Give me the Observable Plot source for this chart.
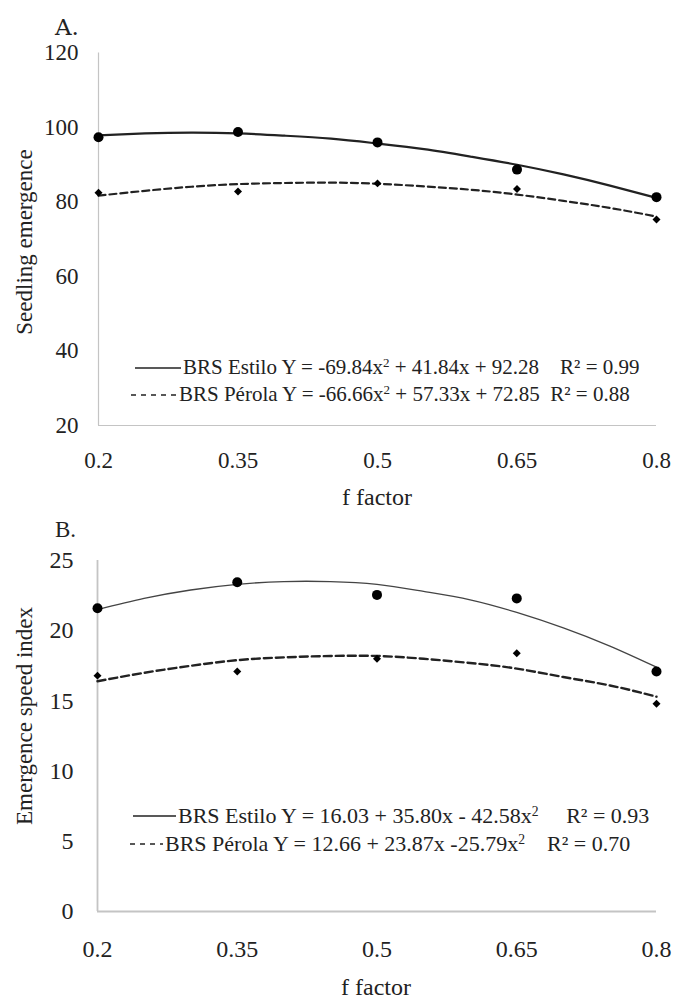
<!DOCTYPE html>
<html>
<head>
<meta charset="utf-8">
<script src="https://cdn.jsdelivr.net/npm/d3@7"></script>
<script src="https://cdn.jsdelivr.net/npm/@observablehq/plot@0.6"></script>
<style>
  body { margin: 0; background: #fff; }
  #wrap { position: relative; width: 673px; height: 1000px; background: #fff; font-family: 'Liberation Serif', serif; color: #222; overflow: hidden; }
  .abs { position: absolute; white-space: pre; line-height: 1; }
  .ytitle { position: absolute; white-space: nowrap; transform: translate(-50%, -50%) rotate(-90deg); line-height: 1; }
  .xtitle { position: absolute; white-space: nowrap; transform: translate(-50%, -50%); line-height: 1.1; }
  .leg { position: absolute; white-space: pre; line-height: 1; display: flex; align-items: center; }
  .leg sup { font-size: 0.62em; vertical-align: 0.55em; line-height: 0; }
  .leg svg { display: block; margin-right: 2px; }
</style>
</head>
<body>
<div id="wrap"></div>
<script>
// ---- data ----
const fFactor = [0.2, 0.35, 0.5, 0.65, 0.8];
const emergEstilo = [97.4, 98.8, 96.0, 88.7, 81.3];
const emergPerola = [82.5, 82.8, 85.0, 83.5, 75.3];
const speedEstilo = [21.6, 23.45, 22.55, 22.3, 17.1];
const speedPerola = [16.8, 17.1, 18.0, 18.4, 14.8];

const trendX = [0.2, 0.25, 0.3, 0.35, 0.4, 0.45, 0.5, 0.55, 0.6, 0.65, 0.7, 0.75, 0.8];
const trendEmergEstilo = [97.9, 98.4, 98.6, 98.4, 97.8, 97.0, 95.7, 94.2, 92.2, 90.0, 87.4, 84.4, 81.1];
const trendEmergPerola = [81.7, 83.0, 84.1, 84.8, 85.1, 85.2, 84.9, 84.2, 83.3, 82.0, 80.3, 78.4, 76.1];
const trendSpeedEstilo = [21.5, 22.3, 22.9, 23.3, 23.5, 23.5, 23.3, 22.8, 22.2, 21.3, 20.2, 18.9, 17.4];
const trendSpeedPerola = [16.4, 17.0, 17.5, 17.9, 18.1, 18.2, 18.2, 18.0, 17.7, 17.3, 16.7, 16.1, 15.3];

const xTicks = [0.2, 0.35, 0.5, 0.65, 0.8];
const yTicksA = [20, 40, 60, 80, 100, 120];
const yTicksB = [0, 5, 10, 15, 20, 25];

const titleA = "A.";
const titleB = "B.";
const yLabelA = "Seedling emergence";
const yLabelB = "Emergence speed index";
const xLabel = "f factor";
const legA = [
  {style: "solid", html: 'BRS Estilo Y = -69.84x<sup>2</sup> + 41.84x + 92.28    R² = 0.99'},
  {style: "dash", html: 'BRS Pérola Y = -66.66x<sup>2</sup> + 57.33x + 72.85  R² = 0.88'}
];
const legB = [
  {style: "solid", html: 'BRS Estilo Y = 16.03 + 35.80x - 42.58x<sup>2</sup>     R² = 0.93'},
  {style: "dash", html: 'BRS Pérola Y = 12.66 + 23.87x -25.79x<sup>2</sup>    R² = 0.70'}
];

const FONT = "Liberation Serif";
const rows = (xs, ys) => xs.map((x, i) => ({x, y: ys[i]}));
const wrap = document.getElementById("wrap");

function panel(opts) {
  const p = Plot.plot({
    width: 673,
    height: 480,
    marginLeft: opts.ml,
    marginRight: opts.mr,
    marginTop: opts.mt,
    marginBottom: opts.mb,
    style: {fontFamily: FONT, fontSize: opts.fs + "px", color: "#222", background: "transparent", overflow: "visible"},
    x: {domain: [0.2, 0.8]},
    y: {domain: opts.ydom},
    marks: [
      Plot.ruleX([0.2], {stroke: "#c4c4c4", strokeWidth: opts.axw}),
      Plot.ruleY([opts.ydom[0]], {stroke: "#c4c4c4", strokeWidth: opts.axw}),
      Plot.axisX({ticks: xTicks, tickFormat: d => String(d), tickSize: 0, tickPadding: opts.xpad, label: null, fill: "#222"}),
      Plot.axisY({ticks: opts.yticks, tickFormat: d => String(d), tickSize: 0, tickPadding: opts.ypad, label: null, fill: "#222"}),
      Plot.line(rows(trendX, opts.trendE), {x: "x", y: "y", curve: "natural", stroke: opts.solidColor, strokeWidth: opts.solidW}),
      Plot.line(rows(trendX, opts.trendP), {x: "x", y: "y", curve: "natural", stroke: "#222", strokeWidth: opts.dashW, strokeDasharray: opts.dash}),
      Plot.dot(rows(fFactor, opts.ptsE), {x: "x", y: "y", r: 5, fill: "#000", stroke: "none"}),
      Plot.dot(rows(fFactor, opts.ptsP), {x: "x", y: "y", r: 3.6, symbol: "diamond2", fill: "#000", stroke: "none"})
    ]
  });
  p.style.position = "absolute";
  p.style.left = "0px";
  p.style.top = opts.top + "px";
  p.style.fontFamily = FONT;
  wrap.appendChild(p);
}

panel({top: 0, ml: 98, mr: 17, mt: 52.5, mb: 55, ydom: [20, 120], yticks: yTicksA, fs: 23, xpad: 26, ypad: 20, axw: 1.2,
  trendE: trendEmergEstilo, trendP: trendEmergPerola, ptsE: emergEstilo, ptsP: emergPerola,
  solidColor: "#222", solidW: 2.2, dashW: 2.2, dash: "7,4"});
panel({top: 500, ml: 97, mr: 17, mt: 60, mb: 69, ydom: [0, 25], yticks: yTicksB, fs: 24, xpad: 28, ypad: 24, axw: 1.8,
  trendE: trendSpeedEstilo, trendP: trendSpeedPerola, ptsE: speedEstilo, ptsP: speedPerola,
  solidColor: "#444", solidW: 1.3, dashW: 2.4, dash: "8,4"});

function addText(cls, txt, left, top, size, fam) {
  const d = document.createElement("div");
  d.className = cls;
  d.textContent = txt;
  d.style.left = left + "px";
  d.style.top = top + "px";
  d.style.fontSize = size + "px";
  if (fam) d.style.fontFamily = fam;
  wrap.appendChild(d);
  return d;
}
addText("abs", titleA, 55, 16, 23, "DejaVu Serif");
addText("abs", titleB, 55, 518, 23, "Liberation Serif");
addText("ytitle", yLabelA, 24, 242, 23, "Times New Roman");
addText("ytitle", yLabelB, 24, 716, 23, "serif");
addText("xtitle", xLabel, 377, 497, 24);
addText("xtitle", xLabel, 376, 987, 24);

function addLegend(items, lefts, tops, size, lineW) {
  items.forEach((it, i) => {
    const d = document.createElement("div");
    d.className = "leg";
    d.style.left = lefts[i] + "px";
    d.style.top = tops[i] + "px";
    d.style.fontSize = size + "px";
    const w = lineW[i];
    const svg = it.style === "solid"
      ? `<svg width="${w}" height="10"><line x1="0" x2="${w}" y1="5" y2="5" stroke="#222" stroke-width="1.3"/></svg>`
      : `<svg width="${w}" height="10"><line x1="0" x2="${w}" y1="5" y2="5" stroke="#222" stroke-width="1.3" stroke-dasharray="5,5"/></svg>`;
    d.innerHTML = svg + "<span>" + it.html + "</span>";
    wrap.appendChild(d);
  });
}
addLegend(legA, [135, 131], [357, 384], 21, [46, 46]);
addLegend(legB, [133, 130], [805, 833], 22, [43, 33]);
</script>
</body>
</html>
